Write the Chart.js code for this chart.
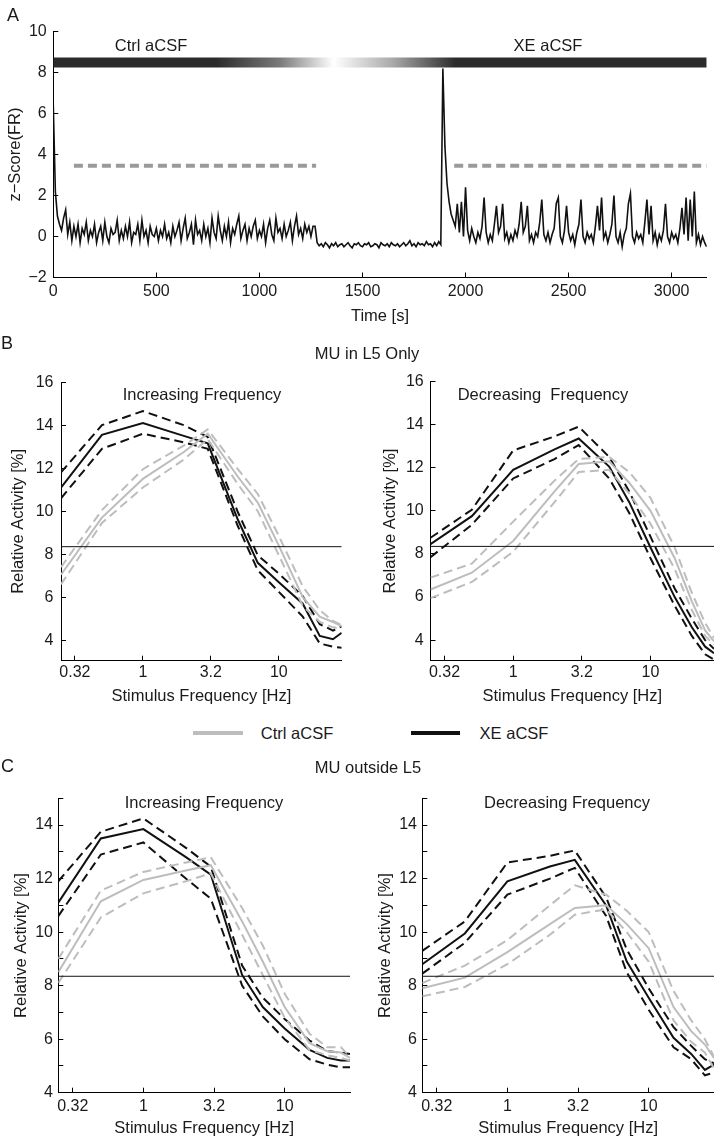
<!DOCTYPE html>
<html>
<head>
<meta charset="utf-8">
<script src="https://cdn.jsdelivr.net/npm/chart.js@4.4.0/dist/chart.umd.min.js"></script>
<style>
  body { margin: 0; background: #fff; }
  #page { position: relative; width: 714px; height: 1138px; overflow: hidden; font-family: "Liberation Sans", Arial, sans-serif; color: #1a1a1a; }
  #page canvas { position: absolute; }
  .txt { position: absolute; font-size: 16.5px; white-space: pre; transform: translate(-50%, -50%); }
  .lbl { position: absolute; font-size: 18px; transform: translateY(-50%); }
  .key { position: absolute; height: 4px; }
</style>
</head>
<body>
<div id="page">
  <canvas id="panelA" width="714" height="330" style="left:0;top:0"></canvas>
  <canvas id="incL5" width="357" height="350" style="left:0;top:360px"></canvas>
  <canvas id="decL5" width="342" height="350" style="left:372px;top:360px"></canvas>
  <canvas id="incOut" width="357" height="368" style="left:0;top:770px"></canvas>
  <canvas id="decOut" width="350" height="368" style="left:364px;top:770px"></canvas>

  <div class="lbl" style="left:7px;top:15px">A</div>
  <div class="lbl" style="left:1px;top:343px">B</div>
  <div class="lbl" style="left:1px;top:766px">C</div>

  <div class="txt" style="left:151px;top:45px">Ctrl aCSF</div>
  <div class="txt" style="left:548px;top:45px">XE aCSF</div>

  <div class="txt" style="left:367px;top:353px">MU in L5 Only</div>
  <div class="txt" style="left:202px;top:394px">Increasing Frequency</div>
  <div class="txt" style="left:543px;top:394px">Decreasing  Frequency</div>

  <div class="key" style="left:193px;top:731px;width:50px;background:#bdbdbd"></div>
  <div class="txt" style="left:297px;top:733px">Ctrl aCSF</div>
  <div class="key" style="left:411px;top:731px;width:49px;background:#111"></div>
  <div class="txt" style="left:514px;top:733px">XE aCSF</div>

  <div class="txt" style="left:368px;top:767px">MU outside L5</div>
  <div class="txt" style="left:204px;top:802px">Increasing Frequency</div>
  <div class="txt" style="left:567px;top:802px">Decreasing Frequency</div>
</div>

<script>
  // ---- panel A: z-scored firing rate over time ----
  const traceStep = 10;          // seconds between samples
  const timeMax = 3170;
  const timeTicks = [0, 500, 1000, 1500, 2000, 2500, 3000];
  const ctrlStart = 0;
  const ctrlZ = [
    6.4, 2.2, 1.0, 0.6, 0.3, 0.9, 1.3, 0.1, 0.7, -0.2,
    0.5, 0.0, 0.6, -0.3, 0.4, 0.1, 0.7, -0.2, 0.3, 0.0,
    0.6, -0.3, 0.2, 0.5, -0.2, 0.7, 0.0, -0.3, 0.4, 0.1,
    0.2, 0.8, -0.2, 0.3, -0.1, 0.5, 0.0, 0.7, -0.3, 0.2,
    0.1, 0.6, -0.2, 0.8, 0.0, 0.3, -0.3, 0.5, 0.1, 0.0,
    0.4, -0.2, 0.3, 0.0, 0.6, -0.1, 0.2, -0.3, 0.5, 0.0,
    0.3, 0.7, -0.2, 0.4, 0.9, -0.1, 0.2, 0.6, -0.4, 0.8,
    0.1, 0.3, -0.2, 0.6, 0.0, 0.4, -0.3, 0.9, 0.2, -0.1,
    1.0, 0.3, -0.2, 0.5, 0.0, 0.7, -0.3, 0.4, 0.1, 0.6,
    1.0, -0.1, 0.3, 0.6, -0.2, 0.4, 0.0, 0.5, 0.8, -0.1,
    0.3, 0.0, 0.6, -0.3, 0.4, 0.8, 0.1, -0.2, 0.9, 0.2,
    0.4, -0.1, 0.6, 0.0, 0.3, 0.7, -0.2, 0.5, 1.0, 0.1,
    0.4, -0.1, 0.6, 0.2, 0.5, 0.0, 0.5, 0.5, -0.3
  ];
  const washStart = 1290;
  const washZ = [
    -0.45, -0.35, -0.5, -0.3, -0.4, -0.55, -0.35, -0.45, -0.3, -0.5,
    -0.4, -0.35, -0.5, -0.4, -0.3, -0.45, -0.55, -0.35, -0.4, -0.3,
    -0.45, -0.5, -0.35, -0.4, -0.3, -0.5, -0.45, -0.35, -0.4, -0.55,
    -0.3, -0.4, -0.45, -0.35, -0.5, -0.3, -0.4, -0.45, -0.35, -0.5,
    -0.4, -0.3, -0.45, -0.35, -0.2, -0.45, -0.35, -0.5, -0.3, -0.4,
    -0.35, -0.45, -0.25, -0.4, -0.35, -0.5, -0.3, -0.45, -0.25, -0.4
  ];
  const xeStart = 1890;
  const xeZ = [
    8.2, 4.4, 2.6, 1.7, 1.1, 0.8, 0.5, 1.6, 0.2, 1.7,
    0.0, 2.4, 0.3, -0.2, 0.4, 0.0, -0.3, 0.2, -0.1, 0.5,
    1.9, 0.2, -0.3, 0.1, -0.2, 0.6, 1.5, 0.2, 0.5, 1.6,
    -0.1, 0.2, -0.3, 0.1, -0.2, 0.3, 0.0, 0.6, 1.7, 0.2,
    0.5, 1.5, -0.2, 0.1, -0.3, 0.2, 0.0, 0.7, 1.8, 0.1,
    -0.2, 0.2, -0.3, 0.1, 0.4, 1.6, 1.9, 0.0, -0.3, 0.3,
    1.5, 0.2, -0.2, 0.1, -0.4, 0.2, 0.6, 1.8, 0.0, -0.3,
    0.2, -0.1, 0.1, -0.3, 0.5, 1.5, 0.3, 1.9, -0.1, 0.2,
    -0.3, 0.1, 0.6, 2.0, 0.0, -0.3, 0.2, -0.5, 0.1, 0.4,
    1.6, 2.1, 0.0, -0.3, 0.2, -0.1, 0.1, -0.3, 0.7, 1.8,
    0.1, 1.5, -0.2, 0.2, -0.4, 0.1, -0.2, 0.3, 1.6, 0.0,
    -0.3, 0.2, -0.1, 0.1, -0.3, 0.4, 1.4, 0.1, 1.9, -0.2,
    1.8, 0.0, 2.2, -0.3, 0.1, -0.4, 0.0, -0.3, -0.5
  ];
  const thresholdZ = 3.45;
  const thresholdSpans = [[100, 1275], [1945, 3170]];
  const conditionBarZ = 8.5;
  const barFadeTimes  = [0, 790, 1100, 1360, 1650, 1950, 3170];
  const barFadeShades = ['#2b2b2b', '#2b2b2b', '#7a7a7a', '#ffffff', '#a8a8a8', '#2b2b2b', '#2b2b2b'];
  const zTicks = [-2, 0, 2, 4, 6, 8, 10];

  // ---- panels B, C: relative activity vs stimulus frequency ----
  const freqHz = [0.25, 0.5, 1, 2, 3, 5, 7, 10, 15, 20, 25, 29];
  const freqTickValues = [0.3162, 1, 3.162, 10];
  const freqTickLabels = ['0.32', '1', '3.2', '10'];
  const baselinePct = 8.35;

  const l5IncXeMean   = [11.1, 13.55, 14.1, 13.5, 13.15, 9.6, 7.6, 6.7, 5.7, 4.2, 4.05, 4.35];
  const l5IncXeUpper  = [11.8, 14.0, 14.65, 14.0, 13.45, 9.95, 7.95, 7.1, 6.05, 4.75, 4.45, 4.65];
  const l5IncXeLower  = [10.6, 12.9, 13.6, 13.2, 12.9, 9.3, 7.25, 6.25, 5.1, 3.85, 3.7, 3.65];
  const l5IncCtrlMean  = [7.05, 9.7, 11.5, 12.75, 13.6, 11.6, 10.4, 8.4, 6.0, 5.1, 4.85, 4.65];
  const l5IncCtrlUpper = [7.4, 10.05, 11.95, 13.05, 13.8, 11.95, 10.8, 8.85, 6.5, 5.4, 4.9, 4.7];
  const l5IncCtrlLower = [6.6, 9.45, 11.1, 12.4, 13.35, 11.25, 10.0, 7.95, 5.6, 4.85, 4.6, 4.55];

  const l5DecXeMean   = [8.45, 9.75, 11.9, 12.85, 13.35, 12.05, 10.4, 8.3, 6.0, 4.6, 3.7, 3.4];
  const l5DecXeUpper  = [8.75, 10.05, 12.8, 13.45, 13.9, 12.5, 10.9, 8.8, 6.4, 5.0, 4.0, 3.6];
  const l5DecXeLower  = [7.85, 9.35, 11.5, 12.4, 13.05, 11.5, 9.9, 7.8, 5.6, 4.2, 3.35, 3.1];
  const l5DecCtrlMean  = [6.35, 7.13, 8.6, 10.9, 12.17, 12.3, 11.3, 10.0, 7.8, 5.8, 4.45, 3.95];
  const l5DecCtrlUpper = [6.9, 7.55, 9.5, 11.4, 12.4, 12.5, 11.8, 10.6, 8.3, 6.2, 4.8, 4.1];
  const l5DecCtrlLower = [5.95, 6.7, 8.1, 10.4, 11.8, 11.9, 10.8, 9.4, 7.3, 5.4, 4.2, 3.8];

  const outIncXeMean   = [11.1, 13.5, 13.85, 12.8, 12.15, 8.4, 7.2, 6.4, 5.6, 5.3, 5.2, 5.2];
  const outIncXeUpper  = [11.9, 13.75, 14.25, 13.15, 12.45, 8.75, 7.55, 6.75, 5.95, 5.55, 5.5, 5.45];
  const outIncXeLower  = [10.6, 12.9, 13.35, 12.0, 11.25, 8.0, 6.85, 6.0, 5.25, 5.05, 4.95, 4.95];
  const outIncCtrlMean  = [8.5, 11.15, 11.95, 12.3, 12.5, 10.4, 8.9, 7.2, 5.85, 5.55, 5.5, 5.3];
  const outIncCtrlUpper = [9.0, 11.55, 12.25, 12.6, 12.8, 10.9, 9.5, 7.7, 6.2, 5.7, 5.7, 5.35];
  const outIncCtrlLower = [8.1, 10.55, 11.45, 11.9, 12.2, 9.9, 8.4, 6.8, 5.6, 5.4, 5.3, 5.2];

  const outDecXeMean   = [8.8, 9.95, 11.9, 12.45, 12.7, 11.0, 8.9, 7.55, 6.05, 5.45, 4.85, 5.05];
  const outDecXeUpper  = [9.3, 10.4, 12.6, 12.85, 13.05, 11.3, 9.35, 7.9, 6.45, 5.75, 5.25, 5.1];
  const outDecXeLower  = [8.45, 9.6, 11.4, 12.0, 12.4, 10.6, 8.5, 7.1, 5.7, 5.25, 4.65, 4.75];
  const outDecCtrlMean  = [7.9, 8.3, 9.25, 10.3, 10.9, 11.0, 10.3, 9.4, 7.2, 6.3, 5.8, 5.3];
  const outDecCtrlUpper = [8.1, 8.75, 9.7, 11.0, 11.75, 11.4, 10.8, 10.0, 7.8, 6.7, 6.0, 5.35];
  const outDecCtrlLower = [7.6, 7.95, 8.8, 9.9, 10.65, 10.85, 10.0, 8.9, 6.7, 5.9, 5.5, 4.9];

  const l5PctTicks  = [4, 6, 8, 10, 12, 14, 16];
  const outPctTicks = [4, 5, 6, 7, 8, 9, 10, 11, 12, 13, 14, 15];

  const ctrlColor = '#bdbdbd';
  const xeColor = '#111111';

  Chart.defaults.font.family = "'Liberation Sans', Arial, sans-serif";
  Chart.defaults.font.size = 16;
  Chart.defaults.color = '#1a1a1a';

  const minus = s => String(s).replace('-', '\u2212');

  function pts(start, vals) {
    return vals.map((v, i) => ({ x: start + i * traceStep, y: v }));
  }

  function barGradient(context) {
    const chart = context.chart;
    const { ctx, chartArea, scales } = chart;
    if (!chartArea || !scales.x) return barFadeShades[0];
    const x0 = scales.x.getPixelForValue(0);
    const x1 = scales.x.getPixelForValue(timeMax);
    const g = ctx.createLinearGradient(x0, 0, x1, 0);
    barFadeTimes.forEach((t, i) => g.addColorStop(t / timeMax, barFadeShades[i]));
    return g;
  }

  const axisLine = { display: true, color: '#000', width: 1 };
  const innerTicks = { display: true, drawOnChartArea: false, color: '#000', tickLength: -5 };

  new Chart(document.getElementById('panelA'), {
    type: 'line',
    data: {
      datasets: [
        ...thresholdSpans.map(span => ({
          data: span.map(t => ({ x: t, y: thresholdZ })),
          borderColor: '#9a9a9a', borderWidth: 4, borderDash: [9, 5], borderCapStyle: 'butt'
        })),
        {
          data: [ ...pts(ctrlStart, ctrlZ), ...pts(washStart, washZ), ...pts(xeStart, xeZ) ],
          borderColor: '#111', borderWidth: 1.6
        },
        {
          data: [{ x: 0, y: conditionBarZ }, { x: timeMax, y: conditionBarZ }],
          borderColor: barGradient, borderWidth: 10, borderCapStyle: 'butt'
        }
      ]
    },
    options: {
      responsive: false, animation: false,
      layout: { padding: { top: 31.7, right: 7.3, left: 0, bottom: 0 } },
      elements: { point: { radius: 0 }, line: { tension: 0 } },
      plugins: { legend: { display: false }, tooltip: { enabled: false } },
      scales: {
        x: {
          type: 'linear', min: 0, max: timeMax,
          afterFit: s => { s.height = 52.5; },
          afterBuildTicks: s => { s.ticks = timeTicks.map(v => ({ value: v })); },
          ticks: { callback: v => String(v), padding: 9.6, maxRotation: 0, autoSkip: false },
          grid: innerTicks, border: axisLine,
          title: { display: true, text: 'Time [s]', font: { size: 16.5 }, padding: { top: 4, bottom: 4 } }
        },
        y: {
          min: -2, max: 10,
          afterFit: s => { s.width = 53.3; },
          afterBuildTicks: s => { s.ticks = zTicks.map(v => ({ value: v })); },
          ticks: { callback: v => minus(v), padding: 11.6 },
          grid: innerTicks, border: axisLine,
          title: { display: true, text: 'z\u2212Score(FR)', font: { size: 16.5 }, padding: { top: 6, bottom: 4 } }
        }
      }
    }
  });

  function curveChart(id, s, geo) {
    const line = (vals, color, dashed) => ({
      data: freqHz.map((f, i) => ({ x: f, y: vals[i] })),
      borderColor: color, borderWidth: 2, borderDash: dashed ? [9, 5] : []
    });
    new Chart(document.getElementById(id), {
      type: 'line',
      data: {
        datasets: [
          { data: [{ x: freqHz[0], y: baselinePct }, { x: freqHz[freqHz.length - 1], y: baselinePct }],
            borderColor: '#111', borderWidth: 1 },
          line(s.ctrlUpper, ctrlColor, true),
          line(s.ctrlLower, ctrlColor, true),
          line(s.ctrlMean, ctrlColor, false),
          line(s.xeUpper, xeColor, true),
          line(s.xeLower, xeColor, true),
          line(s.xeMean, xeColor, false)
        ]
      },
      options: {
        responsive: false, animation: false,
        layout: { padding: { top: geo.top, right: geo.right, left: 0, bottom: 0 } },
        elements: { point: { radius: 0 }, line: { tension: 0 } },
        plugins: { legend: { display: false }, tooltip: { enabled: false } },
        scales: {
          x: {
            type: 'logarithmic', min: freqHz[0], max: freqHz[freqHz.length - 1],
            afterFit: sc => { sc.height = geo.xh; },
            afterBuildTicks: sc => { sc.ticks = freqTickValues.map(v => ({ value: v })); },
            ticks: { callback: (v, i) => freqTickLabels[i], padding: geo.xpad, maxRotation: 0, autoSkip: false },
            grid: innerTicks, border: axisLine,
            title: { display: true, text: 'Stimulus Frequency [Hz]', font: { size: 16.5 }, padding: { top: geo.xtp, bottom: geo.xtp } }
          },
          y: {
            type: 'linear', min: geo.ymin, max: geo.ymax,
            afterFit: sc => { sc.width = geo.yw; },
            afterBuildTicks: sc => { sc.ticks = geo.yticks.map(v => ({ value: v })); },
            ticks: { callback: v => (v % 2 === 0 ? String(v) : ''), padding: geo.ypad, autoSkip: false },
            grid: innerTicks, border: axisLine,
            title: { display: true, text: 'Relative Activity [%]', font: { size: 16.5 }, padding: { top: geo.ytp, bottom: 4 } }
          }
        }
      }
    });
  }

  curveChart('incL5',
    { xeMean: l5IncXeMean, xeUpper: l5IncXeUpper, xeLower: l5IncXeLower,
      ctrlMean: l5IncCtrlMean, ctrlUpper: l5IncCtrlUpper, ctrlLower: l5IncCtrlLower },
    { top: 20, right: 15.3, xh: 49.3, yw: 61, ymin: 3.05, ymax: 16, yticks: l5PctTicks, xpad: 7.7, ypad: 12.5, xtp: 4, ytp: 8.4 });
  curveChart('decL5',
    { xeMean: l5DecXeMean, xeUpper: l5DecXeUpper, xeLower: l5DecXeLower,
      ctrlMean: l5DecCtrlMean, ctrlUpper: l5DecCtrlUpper, ctrlLower: l5DecCtrlLower },
    { top: 20, right: 0, xh: 49.3, yw: 58.5, ymin: 3.05, ymax: 16, yticks: l5PctTicks, xpad: 7.7, ypad: 11.8, xtp: 4, ytp: 8.4 });
  curveChart('incOut',
    { xeMean: outIncXeMean, xeUpper: outIncXeUpper, xeLower: outIncXeLower,
      ctrlMean: outIncCtrlMean, ctrlUpper: outIncCtrlUpper, ctrlLower: outIncCtrlLower },
    { top: 28.3, right: 7, xh: 45.3, yw: 58.3, ymin: 4, ymax: 15, yticks: outPctTicks, xpad: 9.4, ypad: 10.3, xtp: 0, ytp: 11.8 });
  curveChart('decOut',
    { xeMean: outDecXeMean, xeUpper: outDecXeUpper, xeLower: outDecXeLower,
      ctrlMean: outDecCtrlMean, ctrlUpper: outDecCtrlUpper, ctrlLower: outDecCtrlLower },
    { top: 28.3, right: 0, xh: 45.3, yw: 58.3, ymin: 4, ymax: 15, yticks: outPctTicks, xpad: 9.4, ypad: 10.3, xtp: 0, ytp: 11.8 });
</script>
</body>
</html>
